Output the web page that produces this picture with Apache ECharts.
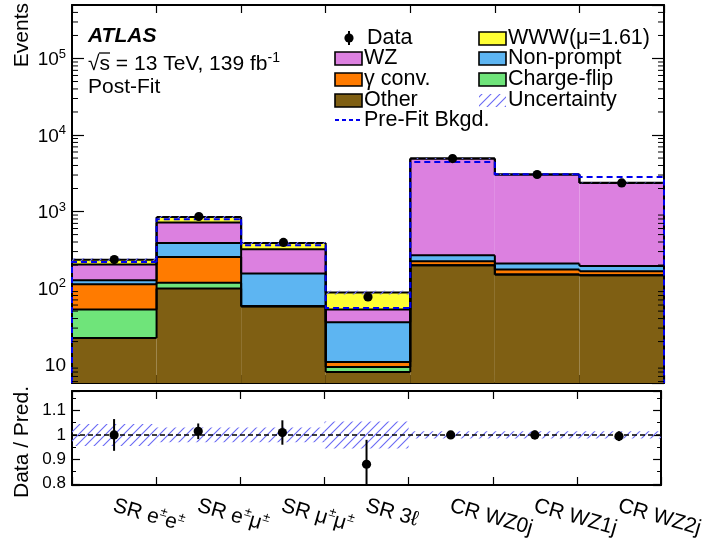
<!DOCTYPE html>
<html><head><meta charset="utf-8">
<script src="https://cdn.jsdelivr.net/npm/echarts@6/dist/echarts.min.js"></script>
<style>html,body{margin:0;padding:0;background:#fff}#c{width:706px;height:541px}</style>
</head><body><div id="c"></div>
<script>
// ---------------- data ----------------
const categories = ['SR e±e±', 'SR e±μ±', 'SR μ±μ±', 'SR 3ℓ', 'CR WZ0j', 'CR WZ1j', 'CR WZ2j'];
// stacked components, bottom -> top
const other      = [22.3, 98.5, 57.8, 8.0, 199, 150, 147];
const chargeFlip = [30, 18.5, 0, 1.3, 0, 0, 0];
const gammaConv  = [60, 138, 0, 1.5, 25, 25, 19];
const nonPrompt  = [14, 134, 97, 25, 44, 34, 28];
const wz         = [77, 329, 166, 16.5, 4650, 2830, 2170];
const www        = [32, 131, 68, 35, 10, 8, 6];
const dataVals   = [236, 862, 395, 76.5, 4930, 3050, 2365];
const dataErr    = [15, 29, 20, 8, 70, 55, 49];
const preFit     = [219, 793, 362, 55, 4450, 3080, 2830];
const ratioVals  = [1.0, 1.015, 1.01, 0.88, 1.0, 1.0, 0.995];
const ratioErr   = [0.065, 0.032, 0.05, 0.10, 0.014, 0.018, 0.02];
const uncert     = [0.045, 0.03, 0.03, 0.055, 0.015, 0.015, 0.015];
const mainTickPowers = [1, 2, 3, 4, 5];

// ---------------- style ----------------
const FONT = '"Liberation Sans", Arial, Helvetica, sans-serif';
const yMin = 5.75, yMax = 5e5;
const rMin = 0.795, rMax = 1.18;
const comps = [other, chargeFlip, gammaConv, nonPrompt, wz, www];
const compColors = ['#7f5f13', '#6fe47a', '#ff7b00', '#5db5f2', '#dc80e0', '#ffff33'];
const cum = comps.map((_, k) => categories.map((_, i) => comps.slice(0, k + 1).reduce((s, a) => s + a[i], 0)));
const total = cum[cum.length - 1];

function makeHatch() {
  const c = document.createElement('canvas'); c.width = 9; c.height = 9;
  const g = c.getContext('2d');
  g.strokeStyle = 'rgb(105,105,245)'; g.lineWidth = 1.1;
  g.beginPath();
  g.moveTo(-1, 10); g.lineTo(10, -1);
  g.moveTo(-1, 1); g.lineTo(1, -1);
  g.moveTo(8, 10); g.lineTo(10, 8);
  g.stroke();
  return c;
}
const hatchImg = makeHatch();
const hatch = () => ({ image: hatchImg, repeat: 'repeat' });

function xr(api, i, yv) {
  const cx = api.coord([i, yv])[0];
  const w = api.size([1, 0], [i, yv])[0];
  return [cx - w / 2, cx + w / 2];
}
const yc = (api, v) => api.coord([0, v])[1];
const blk = (w) => ({ stroke: '#000', lineWidth: w });

// minor tick values of the log axis
const minorVals = [];
for (let n = 0; n <= 5; n++) for (let k = 2; k <= 9; k++) {
  const v = k * Math.pow(10, n);
  if (v > yMin && v < yMax) minorVals.push(v);
}

const xLabelRich = {
  b: { fontFamily: FONT, fontSize: 21, color: '#000', lineHeight: 24, verticalAlign: 'bottom' },
  s: { fontFamily: FONT, fontSize: 13, color: '#000', lineHeight: 14, verticalAlign: 'top' }
};
function catLabel(v) {
  return v.split('±').map(p => p ? '{b|' + p + '}' : '').join('{s|±}');
}
const yLabelRich = {
  b: { fontFamily: FONT, fontSize: 19, color: '#000', lineHeight: 22, verticalAlign: 'bottom' },
  s: { fontFamily: FONT, fontSize: 13, color: '#000', lineHeight: 14, verticalAlign: 'top' }
};

const axLine = { show: true, lineStyle: { color: '#000', width: 2 } };

const option = {
  animation: false,
  backgroundColor: '#fff',
  grid: [
    { left: 72, top: 5, width: 592, height: 378 },
    { left: 72, top: 391, width: 592, height: 94 }
  ],
  xAxis: [
    { type: 'category', gridIndex: 0, data: categories, position: 'bottom', boundaryGap: true,
      axisLine: axLine, axisTick: { show: true, inside: true, length: 8, lineStyle: { color: '#000', width: 1.2 } },
      axisLabel: { show: false }, splitLine: { show: false } },
    { type: 'category', gridIndex: 0, data: categories, position: 'top', boundaryGap: true,
      axisLine: axLine, axisTick: { show: true, inside: true, length: 8, lineStyle: { color: '#000', width: 1.2 } },
      axisLabel: { show: false }, splitLine: { show: false } },
    { type: 'category', gridIndex: 1, data: categories, position: 'bottom', boundaryGap: true,
      axisLine: axLine, axisTick: { show: true, inside: true, length: 8, lineStyle: { color: '#000', width: 1.2 } },
      axisLabel: { show: true, interval: 0, rotate: -16, margin: 19, formatter: catLabel, rich: xLabelRich },
      splitLine: { show: false } },
    { type: 'category', gridIndex: 1, data: categories, position: 'top', boundaryGap: true,
      axisLine: axLine, axisTick: { show: true, inside: true, length: 8, lineStyle: { color: '#000', width: 1.2 } },
      axisLabel: { show: false }, splitLine: { show: false } }
  ],
  yAxis: [
    { type: 'log', gridIndex: 0, position: 'left', min: yMin, max: yMax, logBase: 10,
      axisLine: axLine, axisTick: { show: true, inside: true, length: 12, lineStyle: { color: '#000', width: 1.2 } },
      minorTick: { show: false }, splitLine: { show: false },
      axisLabel: { show: true, margin: 6, showMinLabel: false, showMaxLabel: false, rich: yLabelRich,
        formatter: v => {
          const l = Math.log10(v), n = Math.round(l);
          if (Math.abs(l - n) > 1e-6 || mainTickPowers.indexOf(n) < 0) return '';
          return n === 1 ? '{b|10}' : '{b|10}{s|' + n + '}';
        } } },
    { type: 'log', gridIndex: 0, position: 'right', min: yMin, max: yMax, logBase: 10,
      axisLine: axLine, axisTick: { show: true, inside: true, length: 12, lineStyle: { color: '#000', width: 1.2 } },
      minorTick: { show: false }, splitLine: { show: false }, axisLabel: { show: false } },
    { type: 'value', gridIndex: 1, position: 'left', min: rMin, max: rMax, splitNumber: 4,
      axisLine: axLine, axisTick: { show: true, inside: true, length: 8, lineStyle: { color: '#000', width: 1.2 } },
      minorTick: { show: true, splitNumber: 2, length: 4, lineStyle: { color: '#000', width: 1 } },
      splitLine: { show: false }, minorSplitLine: { show: false },
      axisLabel: { show: true, margin: 6, showMinLabel: false, showMaxLabel: false,
        fontFamily: FONT, fontSize: 17, color: '#000' } },
    { type: 'value', gridIndex: 1, position: 'right', min: rMin, max: rMax, splitNumber: 4,
      axisLine: axLine, axisTick: { show: true, inside: true, length: 8, lineStyle: { color: '#000', width: 1.2 } },
      minorTick: { show: true, splitNumber: 2, length: 4, lineStyle: { color: '#000', width: 1 } },
      splitLine: { show: false }, minorSplitLine: { show: false }, axisLabel: { show: false } }
  ],
  series: [
    // stacked fills
    { type: 'custom', xAxisIndex: 0, yAxisIndex: 0, z: 2,
      data: categories.map((c, i) => [i, total[i]]),
      renderItem: (params, api) => {
        const i = params.dataIndex; const [x0, x1] = xr(api, i, total[i]);
        const ch = []; let prev = yMin;
        for (let k = 0; k < comps.length; k++) {
          const top = cum[k][i];
          if (top > prev) {
            const y0 = yc(api, prev), y1 = yc(api, top);
            ch.push({ type: 'rect', shape: { x: x0, y: y1, width: x1 - x0, height: y0 - y1 }, style: { fill: compColors[k] } });
          }
          prev = Math.max(prev, top);
        }
        return { type: 'group', children: ch };
      } },
    // outlines
    { type: 'custom', xAxisIndex: 0, yAxisIndex: 0, z: 3,
      data: categories.map((c, i) => [i, total[i]]),
      renderItem: (params, api) => {
        const i = params.dataIndex; const [x0, x1] = xr(api, i, total[i]);
        const ch = []; const yb = yc(api, yMin);
        for (let k = 0; k < comps.length; k++) {
          const y = yc(api, cum[k][i]);
          ch.push({ type: 'line', shape: { x1: x0, y1: y, x2: x1, y2: y }, style: blk(2) });
          const yp = i === 0 ? yb : yc(api, cum[k][i - 1]);
          ch.push({ type: 'line', shape: { x1: x0, y1: yp, x2: x0, y2: y }, style: blk(2) });
          if (i === categories.length - 1) ch.push({ type: 'line', shape: { x1: x1, y1: y, x2: x1, y2: yb }, style: blk(2) });
        }
        return { type: 'group', children: ch };
      } },
    // uncertainty hatch (main)
    { type: 'custom', xAxisIndex: 0, yAxisIndex: 0, z: 4,
      data: categories.map((c, i) => [i, total[i]]),
      renderItem: (params, api) => {
        const i = params.dataIndex; const [x0, x1] = xr(api, i, total[i]);
        const ya = yc(api, total[i] * (1 + uncert[i])), yb = yc(api, total[i] * (1 - uncert[i]));
        return { type: 'rect', shape: { x: x0, y: ya, width: x1 - x0, height: yb - ya }, style: { fill: hatch() } };
      } },
    // pre-fit background
    { type: 'custom', xAxisIndex: 0, yAxisIndex: 0, z: 5,
      data: categories.map((c, i) => [i, preFit[i]]),
      renderItem: (params, api) => {
        const i = params.dataIndex; const [x0, x1] = xr(api, i, preFit[i]);
        const y = yc(api, preFit[i]);
        const yp = i === 0 ? yc(api, yMin) : yc(api, preFit[i - 1]);
        const pts = [[x0, yp], [x0, y], [x1, y]];
        if (i === categories.length - 1) pts.push([x1, yc(api, yMin)]);
        return { type: 'polyline', shape: { points: pts }, style: { stroke: '#0000ee', lineWidth: 2, lineDash: [6, 4], fill: null } };
      } },
    // data points (main)
    { type: 'custom', xAxisIndex: 0, yAxisIndex: 0, z: 6,
      data: categories.map((c, i) => [i, dataVals[i]]),
      renderItem: (params, api) => {
        const i = params.dataIndex;
        const p = api.coord([i, dataVals[i]]);
        const ya = yc(api, dataVals[i] + dataErr[i]), yb = yc(api, dataVals[i] - dataErr[i]);
        return { type: 'group', children: [
          { type: 'line', shape: { x1: p[0], y1: ya, x2: p[0], y2: yb }, style: blk(2) },
          { type: 'circle', shape: { cx: p[0], cy: p[1], r: 4.6 }, style: { fill: '#000' } }
        ] };
      } },
    // minor ticks on log axis (left and right)
    { type: 'custom', xAxisIndex: 0, yAxisIndex: 0, z: 7,
      data: minorVals.map(v => [0, v]),
      renderItem: (params, api) => {
        const cs = params.coordSys; const y = api.coord([0, api.value(1)])[1];
        return { type: 'group', children: [
          { type: 'line', shape: { x1: cs.x, y1: y, x2: cs.x + 6, y2: y }, style: blk(1) },
          { type: 'line', shape: { x1: cs.x + cs.width - 6, y1: y, x2: cs.x + cs.width, y2: y }, style: blk(1) }
        ] };
      } },
    // ratio uncertainty hatch
    { type: 'custom', xAxisIndex: 2, yAxisIndex: 2, z: 2,
      data: categories.map((c, i) => [i, 1]),
      renderItem: (params, api) => {
        const i = params.dataIndex; const [x0, x1] = xr(api, i, 1);
        const ya = yc(api, 1 + uncert[i]), yb = yc(api, 1 - uncert[i]);
        return { type: 'rect', shape: { x: x0, y: ya, width: x1 - x0, height: yb - ya }, style: { fill: hatch() } };
      } },
    // ratio reference line at 1
    { type: 'custom', xAxisIndex: 2, yAxisIndex: 2, z: 3,
      data: [[0, 1]],
      renderItem: (params, api) => {
        const cs = params.coordSys; const y = api.coord([0, 1])[1];
        return { type: 'line', shape: { x1: cs.x, y1: y, x2: cs.x + cs.width, y2: y }, style: { stroke: '#000', lineWidth: 1.6, lineDash: [5, 3] } };
      } },
    // ratio data points
    { type: 'custom', xAxisIndex: 2, yAxisIndex: 2, z: 4, clip: true,
      data: categories.map((c, i) => [i, ratioVals[i]]),
      renderItem: (params, api) => {
        const i = params.dataIndex; const cs = params.coordSys;
        const p = api.coord([i, ratioVals[i]]);
        let ya = yc(api, ratioVals[i] + ratioErr[i]), yb = yc(api, ratioVals[i] - ratioErr[i]);
        ya = Math.max(ya, cs.y); yb = Math.min(yb, cs.y + cs.height);
        return { type: 'group', children: [
          { type: 'line', shape: { x1: p[0], y1: ya, x2: p[0], y2: yb }, style: blk(2) },
          { type: 'circle', shape: { cx: p[0], cy: p[1], r: 4.6 }, style: { fill: '#000' } }
        ] };
      } }
  ],
  graphic: [
    { type: 'text', x: 88, y: 36, style: { text: 'ATLAS', font: 'italic bold 21px ' + FONT, fill: '#000',
      textVerticalAlign: 'middle', verticalAlign: 'middle' } },
    { type: 'text', x: 88, y: 63, style: { text: '{b|√s = 13 TeV, 139 fb}{s|-1}', fill: '#000',
      textVerticalAlign: 'middle', verticalAlign: 'middle',
      rich: { b: { fontFamily: FONT, fontSize: 21, lineHeight: 24, verticalAlign: 'bottom' },
              s: { fontFamily: FONT, fontSize: 14, lineHeight: 14, verticalAlign: 'top' } } } },
    { type: 'line', shape: { x1: 99, y1: 53, x2: 110, y2: 53 }, style: { stroke: '#000', lineWidth: 1.3 } },
    { type: 'text', x: 88, y: 87, style: { text: 'Post-Fit', font: '21px ' + FONT, fill: '#000',
      textVerticalAlign: 'middle', verticalAlign: 'middle' } },
    // legend column 1
    { type: 'line', shape: { x1: 349, y1: 31, x2: 349, y2: 45 }, style: { stroke: '#000', lineWidth: 2 } },
    { type: 'circle', shape: { cx: 349, cy: 38, r: 4.6 }, style: { fill: '#000' } },
    { type: 'text', x: 367, y: 38, style: { text: 'Data', font: '21.5px ' + FONT, fill: '#000', textVerticalAlign: 'middle', verticalAlign: 'middle' } },
    { type: 'rect', shape: { x: 335, y: 52, width: 27, height: 13 }, style: { fill: compColors[4], stroke: '#000', lineWidth: 1.6 } },
    { type: 'text', x: 364, y: 58.5, style: { text: 'WZ', font: '21.5px ' + FONT, fill: '#000', textVerticalAlign: 'middle', verticalAlign: 'middle' } },
    { type: 'rect', shape: { x: 335, y: 73, width: 27, height: 13 }, style: { fill: compColors[2], stroke: '#000', lineWidth: 1.6 } },
    { type: 'text', x: 364, y: 79.5, style: { text: 'γ conv.', font: '21.5px ' + FONT, fill: '#000', textVerticalAlign: 'middle', verticalAlign: 'middle' } },
    { type: 'rect', shape: { x: 335, y: 94, width: 27, height: 13 }, style: { fill: compColors[0], stroke: '#000', lineWidth: 1.6 } },
    { type: 'text', x: 364, y: 100.5, style: { text: 'Other', font: '21.5px ' + FONT, fill: '#000', textVerticalAlign: 'middle', verticalAlign: 'middle' } },
    { type: 'line', shape: { x1: 335, y1: 120, x2: 362, y2: 120 }, style: { stroke: '#0000ee', lineWidth: 2, lineDash: [4, 3] } },
    { type: 'text', x: 364, y: 120.5, style: { text: 'Pre-Fit Bkgd.', font: '21.5px ' + FONT, fill: '#000', textVerticalAlign: 'middle', verticalAlign: 'middle' } },
    // legend column 2
    { type: 'rect', shape: { x: 479, y: 32, width: 27, height: 13 }, style: { fill: compColors[5], stroke: '#000', lineWidth: 1.6 } },
    { type: 'text', x: 508, y: 38, style: { text: 'WWW(μ=1.61)', font: '21.5px ' + FONT, fill: '#000', textVerticalAlign: 'middle', verticalAlign: 'middle' } },
    { type: 'rect', shape: { x: 479, y: 52, width: 27, height: 13 }, style: { fill: compColors[3], stroke: '#000', lineWidth: 1.6 } },
    { type: 'text', x: 508, y: 58.5, style: { text: 'Non-prompt', font: '21.5px ' + FONT, fill: '#000', textVerticalAlign: 'middle', verticalAlign: 'middle' } },
    { type: 'rect', shape: { x: 479, y: 73, width: 27, height: 13 }, style: { fill: compColors[1], stroke: '#000', lineWidth: 1.6 } },
    { type: 'text', x: 508, y: 79.5, style: { text: 'Charge-flip', font: '21.5px ' + FONT, fill: '#000', textVerticalAlign: 'middle', verticalAlign: 'middle' } },
    { type: 'rect', shape: { x: 479, y: 94, width: 27, height: 13 }, style: { fill: { image: hatchImg, repeat: 'repeat' } } },
    { type: 'text', x: 508, y: 100.5, style: { text: 'Uncertainty', font: '21.5px ' + FONT, fill: '#000', textVerticalAlign: 'middle', verticalAlign: 'middle' } },
    // axis titles
    { type: 'text', x: 22, y: 3, rotation: Math.PI / 2, style: { text: 'Events', font: '21px ' + FONT, fill: '#000',
      textAlign: 'right', align: 'right', textVerticalAlign: 'middle', verticalAlign: 'middle' } },
    { type: 'text', x: 22, y: 442, rotation: Math.PI / 2, style: { text: 'Data / Pred.', font: '21px ' + FONT, fill: '#000',
      textAlign: 'center', align: 'center', textVerticalAlign: 'middle', verticalAlign: 'middle' } }
  ]
};
const chart = echarts.init(document.getElementById('c'), null, { renderer: 'canvas' });
chart.setOption(option);
</script>
</body></html>
